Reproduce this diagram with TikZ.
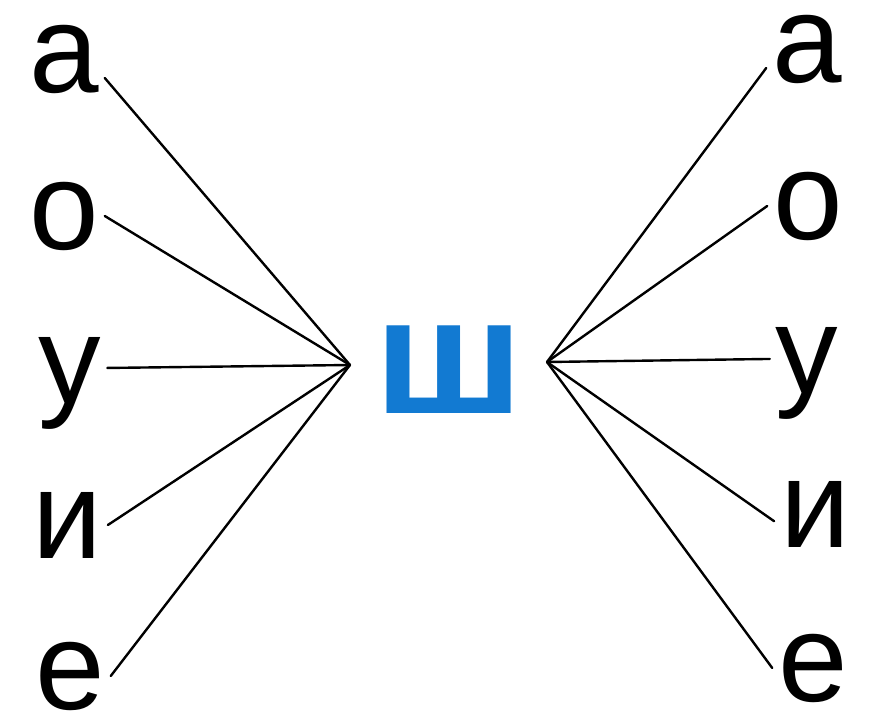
\documentclass[tikz,border=0pt]{standalone}
\usepackage{fontspec}
\setmainfont{Liberation Sans}
\usepackage{xcolor}

\definecolor{shblue}{RGB}{18,122,210}

\begin{document}
\begin{tikzpicture}[
    x=1pt, y=-1pt,
    vowel/.style={
        inner sep=0pt,
        outer sep=6pt,
        anchor=base,
        font=\fontsize{125}{125}\selectfont
    },
    consonant/.style={
        inner sep=0pt,
        anchor=base,
        text=shblue,
        font=\bfseries\fontsize{166}{166}\selectfont
    },
    spoke/.style={
        draw,
        line width=2.4pt,
        line cap=round
    }
]
    \useasboundingbox (0,0) rectangle (871,720);

    % --- Nodes ---

    % Centre letter
    \node [consonant, xscale=1.08] (sh) at (449,413) {ш};
    \coordinate (lhub) at (350,365);
    \coordinate (rhub) at (547,362);

    % Left column
    \node [vowel] (la) at (64,92) {а};
    \node [vowel] (lo) at (64,249) {о};
    \node [vowel] (lu) at (70,403) {у};
    \node [vowel] (li) at (67,558) {и};
    \node [vowel] (le) at (70,709) {е};

    % Right column
    \node [vowel] (ra) at (807,82) {а};
    \node [vowel] (ro) at (808,239) {о};
    \node [vowel] (ru) at (807,393) {у};
    \node [vowel] (ri) at (815,547) {и};
    \node [vowel] (re) at (813,701) {е};

    % --- Connections ---

    % Left fan into the hub before ш
    \path [spoke] (la.-25) -- (lhub);
    \path [spoke] (lo.east) -- (lhub);
    \path [spoke] ([yshift=15pt]lu.east) -- (lhub); % у has a descender
    \path [spoke] (li.east) -- (lhub);
    \path [spoke] (le.east) -- (lhub);

    % Right fan out of the hub after ш
    \path [spoke] (rhub) -- (ra.205);
    \path [spoke] (rhub) -- (ro.west);
    \path [spoke] (rhub) -- ([yshift=14pt]ru.west);
    \path [spoke] (rhub) -- (ri.190);
    \path [spoke] (rhub) -- (re.west);

\end{tikzpicture}
\end{document}
